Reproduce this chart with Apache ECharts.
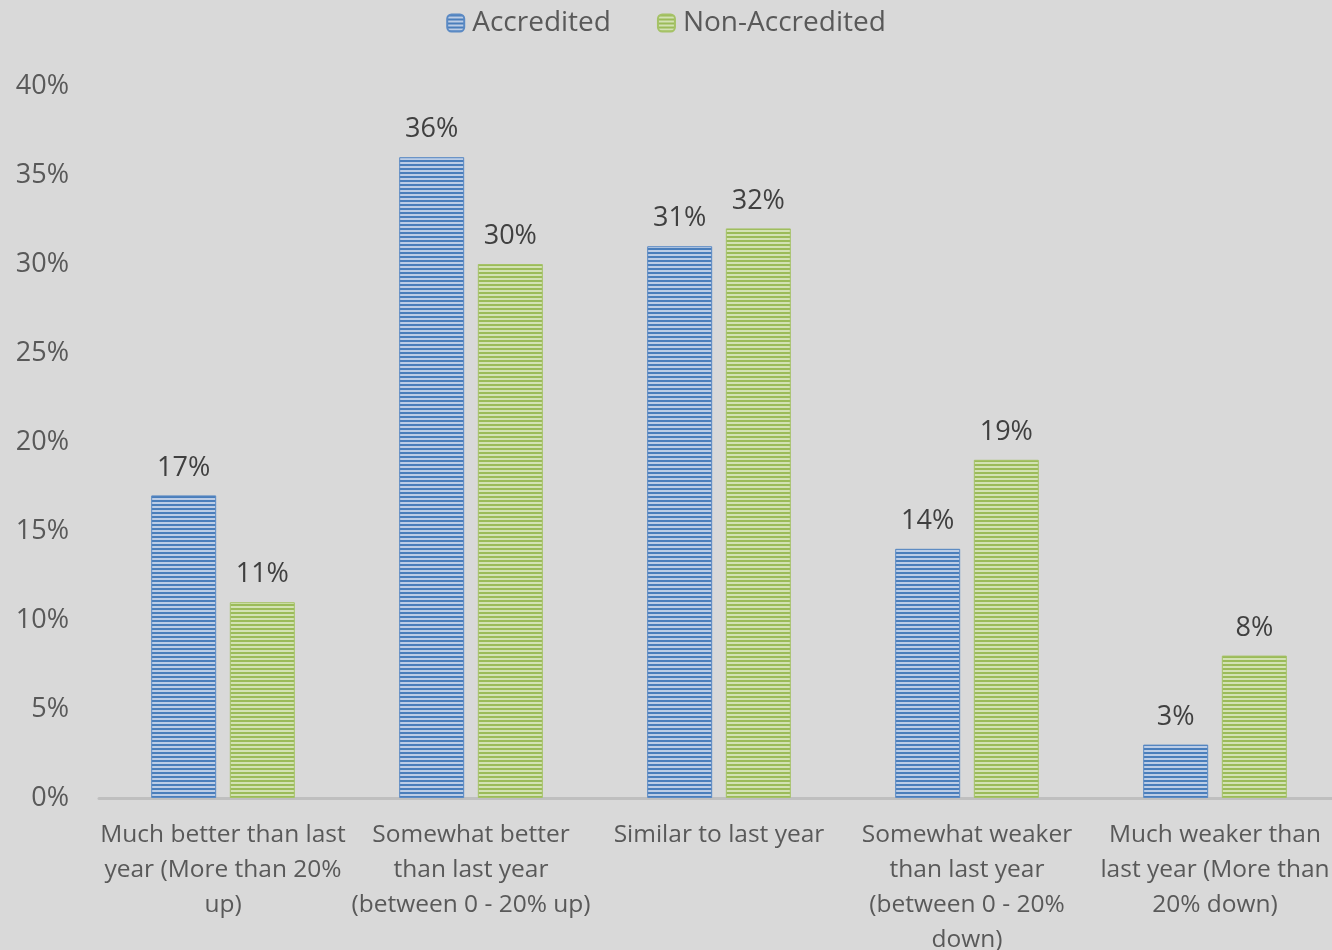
<!DOCTYPE html>
<html><head><meta charset="utf-8">
<script src="https://cdn.jsdelivr.net/npm/echarts@6/dist/echarts.min.js"></script>
<style>html,body{margin:0;padding:0;background:#d9d9d9;overflow:hidden;}#c{width:1332px;height:950px;}</style>
</head><body><div id="c"></div>
<script>
const categories = [
  "Much better than last\nyear (More than 20%\nup)",
  "Somewhat better\nthan last year\n(between 0 - 20% up)",
  "Similar to last year",
  "Somewhat weaker\nthan last year\n(between 0 - 20%\ndown)",
  "Much weaker than\nlast year (More than\n20% down)"
];
const seriesNames = ["Accredited", "Non-Accredited"];
const accredited = [17, 36, 31, 14, 3];
const nonAccredited = [11, 30, 32, 19, 8];

function stripe(dark, light) {
  const c = document.createElement('canvas');
  c.width = 4; c.height = 4;
  const g = c.getContext('2d');
  g.fillStyle = light; g.fillRect(0, 0, 4, 4);
  g.fillStyle = dark; g.fillRect(0, 0, 4, 2);
  return { image: c, repeat: 'repeat' };
}
const FONT = 'Open Sans';
const chart = echarts.init(document.getElementById('c'));
const labelCfg = { show: true, position: 'top', distance: 14, fontSize: 27, color: '#404040', fontFamily: FONT, formatter: '{c}%' };
chart.setOption({
  backgroundColor: '#d9d9d9',
  animation: false,
  legend: {
    top: 4, left: 'center', itemWidth: 17, itemHeight: 17, itemGap: 46,
    textStyle: { fontSize: 28, color: '#595959', fontFamily: FONT, padding: [0, 0, 0, 3] },
    data: seriesNames
  },
  grid: { left: 99, right: -7, top: 86, bottom: 152, containLabel: false, outerBoundsMode: 'none' },
  xAxis: {
    type: 'category', data: categories,
    axisLine: { lineStyle: { color: '#bfbfbf', width: 3 } },
    axisTick: { show: false },
    axisLabel: { interval: 0, fontSize: 24.5, color: '#595959', fontFamily: FONT, lineHeight: 35, margin: 20 }
  },
  yAxis: {
    type: 'value', min: 0, max: 40, interval: 5,
    axisLine: { show: false }, axisTick: { show: false },
    splitLine: { show: false },
    axisLabel: { formatter: '{value}%', fontSize: 27, color: '#595959', fontFamily: FONT, margin: 30 }
  },
  series: [
    { name: seriesNames[0], type: 'bar', data: accredited, barWidth: 65, barGap: '21%',
      itemStyle: { color: stripe('#4a7ebb', '#bccde6'), borderColor: '#5b8ac4', borderWidth: 1 },
      label: labelCfg },
    { name: seriesNames[1], type: 'bar', data: nonAccredited, barWidth: 65,
      itemStyle: { color: stripe('#9bbb59', '#d3e2b4'), borderColor: '#a5c266', borderWidth: 1 },
      label: labelCfg }
  ]
});
</script></body></html>
